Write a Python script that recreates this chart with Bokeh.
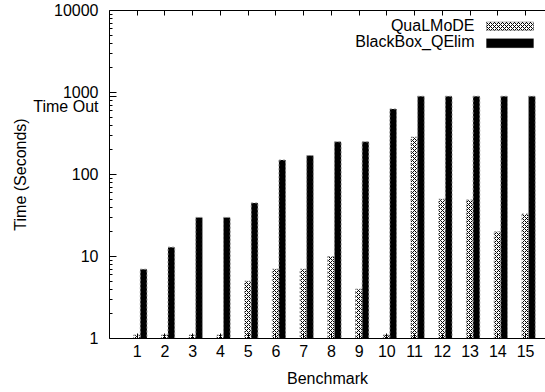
from bokeh.plotting import figure
from bokeh.models import (FixedTicker, LinearAxis, BoxAnnotation, Label,
                          PrintfTickFormatter, Range1d, ColumnDataSource)
from bokeh.transform import dodge
from bokeh.embed import file_html
from bokeh.resources import INLINE

# Benchmark runtimes in seconds (log scale); 900 s marks a time-out
benchmarks = list(range(1, 16))
qualmode = [1.1, 1.1, 1.1, 1.1, 5, 7, 7, 10, 4, 1.1, 285, 50, 49, 20, 33]
blackbox_qelim = [7, 13, 30, 30, 45, 150, 170, 250, 250, 630, 900, 900, 900, 900, 900]
TIME_OUT = 900
y_ticks = [1, 10, 100, 1000, 10000]
series_names = ["QuaLMoDE", "BlackBox_QElim"]

FONT = "Liberation Sans"
FS = "16px"

src = ColumnDataSource(dict(bench=benchmarks, qual=qualmode, bb=blackbox_qelim))

p = figure(width=545, height=392, output_backend="svg", toolbar_location=None,
           y_axis_type="log", x_range=Range1d(0, 15.72), y_range=Range1d(1, 10000),
           min_border_left=109, min_border_right=0, min_border_top=10,
           min_border_bottom=54, x_axis_location="below")
p.outline_line_color = None
p.grid.visible = False
p.background_fill_color = "white"
p.border_fill_color = "white"

bar_w = 0.24
p.vbar(x=dodge("bench", -0.01, range=p.x_range), top="qual", bottom=1, width=bar_w,
       source=src, fill_color="white", hatch_pattern="x", hatch_color="black",
       hatch_scale=4, hatch_weight=1, line_color="#909090", line_width=1,
       line_dash="2 2")
p.vbar(x=dodge("bench", 0.23, range=p.x_range), top="bb", bottom=1, width=bar_w,
       source=src, fill_color="black", line_color="#909090", line_width=1,
       line_dash="2 2")

# bottom axis
xa = p.xaxis[0]
xa.ticker = FixedTicker(ticks=benchmarks)
xa.axis_label = "Benchmark"
xa.minor_tick_line_color = None
xa.major_tick_in = 5
xa.major_tick_out = 0
xa.major_label_standoff = 6
xa.axis_label_standoff = 10

# top axis: tick marks only, labels blanked
top = LinearAxis(ticker=FixedTicker(ticks=benchmarks), major_tick_in=5,
                 major_tick_out=0, minor_tick_line_color=None,
                 major_label_overrides={b: "" for b in benchmarks},
                 major_label_standoff=0)
p.add_layout(top, "above")

# left axis; the time-out level gets its own label under "1000"
ya = p.yaxis[0]
minor = [m * d for d in [1, 10, 100, 1000] for m in range(2, 10)]
ya.ticker = FixedTicker(ticks=y_ticks + [TIME_OUT], minor_ticks=minor)
ya.formatter = PrintfTickFormatter(format="%d")
ya.major_label_overrides = {TIME_OUT: "\nTime Out"}
ya.axis_label = "Time (Seconds)"
ya.major_tick_in = 7
ya.major_tick_out = 0
ya.minor_tick_in = 3
ya.minor_tick_out = 0
ya.major_label_standoff = 11
ya.axis_label_standoff = 1

for ax in [xa, ya, top]:
    ax.axis_line_color = "black"
    ax.major_tick_line_color = "black"
    ax.major_label_text_font = FONT
    ax.major_label_text_font_size = FS
    ax.major_label_text_color = "black"
    ax.axis_label_text_font = FONT
    ax.axis_label_text_font_size = FS
    ax.axis_label_text_font_style = "normal"
    ax.axis_label_text_color = "black"
ya.minor_tick_line_color = "black"

# legend: text on the left, swatch on the right
leg_rows = [(313.3, 308.1, 316.5), (297.3, 290.8, 299.8)]
for i, name in enumerate(series_names):
    ty, b, t = leg_rows[i]
    p.add_layout(Label(x=365, y=ty, x_units="screen", y_units="screen", text=name,
                       text_align="right", text_baseline="middle", text_font=FONT,
                       text_font_size=FS, text_color="black"))
    style = dict(fill_color="white", hatch_pattern="x", hatch_color="black",
                 hatch_scale=4, hatch_weight=1) if i == 0 else dict(fill_color="black")
    p.add_layout(BoxAnnotation(left=377, right=424, bottom=b, top=t,
                               left_units="screen", right_units="screen",
                               top_units="screen", bottom_units="screen",
                               fill_alpha=1, line_color="black", line_width=1,
                               **style))

open("out.html", "w").write(file_html(p, INLINE))
